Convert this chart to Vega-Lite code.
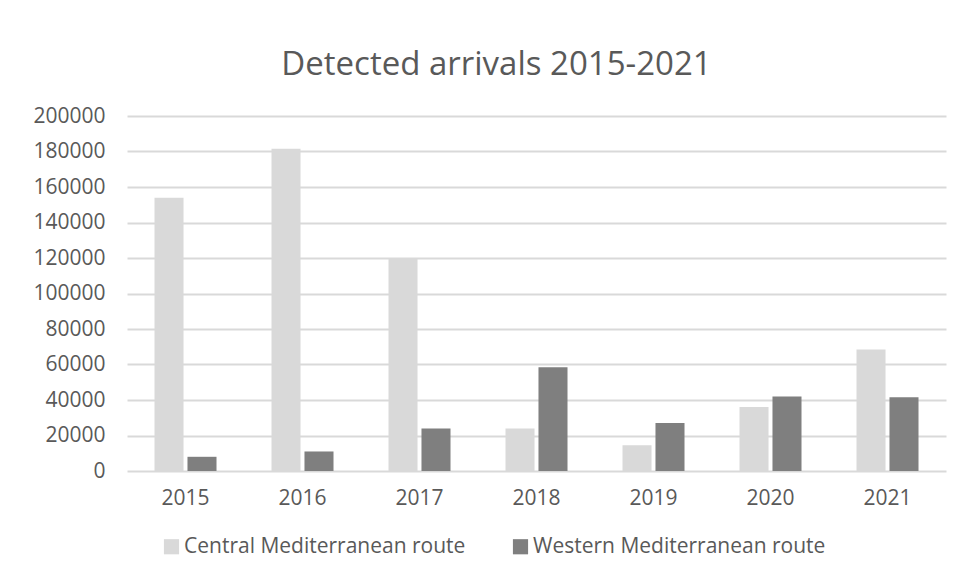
{
  "$schema": "https://vega.github.io/schema/vega-lite/v6.json",
  "width": 819,
  "height": 355,
  "padding": {"left": 32, "top": 49, "right": 20, "bottom": 10},
  "background": "white",
  "title": {
    "text": "Detected arrivals 2015-2021",
    "font": "Open Sans",
    "fontSize": 33,
    "fontWeight": "normal",
    "color": "#595959",
    "anchor": "middle",
    "frame": "bounds",
    "offset": 23,
    "dx": 7
  },
  "data": {
    "values": [
      {"year": "2015", "route": "Central Mediterranean route", "arrivals": 154000},
      {"year": "2015", "route": "Western Mediterranean route", "arrivals": 8000},
      {"year": "2016", "route": "Central Mediterranean route", "arrivals": 181500},
      {"year": "2016", "route": "Western Mediterranean route", "arrivals": 11000},
      {"year": "2017", "route": "Central Mediterranean route", "arrivals": 119500},
      {"year": "2017", "route": "Western Mediterranean route", "arrivals": 24000},
      {"year": "2018", "route": "Central Mediterranean route", "arrivals": 24000},
      {"year": "2018", "route": "Western Mediterranean route", "arrivals": 58500},
      {"year": "2019", "route": "Central Mediterranean route", "arrivals": 14500},
      {"year": "2019", "route": "Western Mediterranean route", "arrivals": 27000},
      {"year": "2020", "route": "Central Mediterranean route", "arrivals": 36000},
      {"year": "2020", "route": "Western Mediterranean route", "arrivals": 42000},
      {"year": "2021", "route": "Central Mediterranean route", "arrivals": 68500},
      {"year": "2021", "route": "Western Mediterranean route", "arrivals": 41500}
    ]
  },
  "mark": {"type": "bar"},
  "encoding": {
    "x": {
      "field": "year",
      "type": "nominal",
      "scale": {"paddingInner": 0.47, "paddingOuter": 0.235},
      "axis": {
        "title": null,
        "labelAngle": 0,
        "domain": false,
        "ticks": false,
        "labelPadding": 16,
        "labelFont": "Open Sans",
        "labelFontSize": 21,
        "labelColor": "#595959"
      }
    },
    "xOffset": {
      "field": "route",
      "type": "nominal",
      "scale": {"paddingInner": 0.12}
    },
    "y": {
      "field": "arrivals",
      "type": "quantitative",
      "scale": {"domain": [0, 200000]},
      "axis": {
        "title": null,
        "values": [0, 20000, 40000, 60000, 80000, 100000, 120000, 140000, 160000, 180000, 200000],
        "format": "d",
        "domain": false,
        "ticks": false,
        "labelPadding": 22,
        "labelFont": "Open Sans",
        "labelFontSize": 21,
        "labelColor": "#595959",
        "gridColor": "#d9d9d9",
        "gridWidth": 2
      }
    },
    "color": {
      "field": "route",
      "type": "nominal",
      "scale": {"range": ["#d9d9d9", "#7f7f7f"]},
      "legend": {
        "title": null,
        "orient": "none",
        "legendX": 34,
        "legendY": 420,
        "direction": "horizontal",
        "symbolType": "square",
        "symbolSize": 230,
        "symbolStrokeWidth": 0,
        "labelFont": "Open Sans",
        "labelFontSize": 21,
        "labelColor": "#595959",
        "labelLimit": 0,
        "columnPadding": 44,
        "labelOffset": 2
      }
    }
  },
  "config": {
    "view": {"stroke": null}
  }
}
